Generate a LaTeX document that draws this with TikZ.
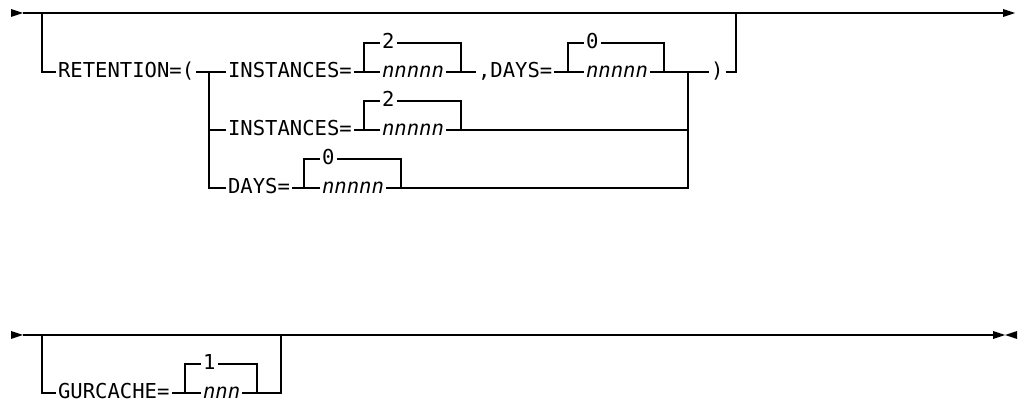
\documentclass[tikz,border=0pt]{standalone}
\usepackage{fontspec}
\setmonofont{DejaVu Sans Mono}
\usetikzlibrary{positioning,calc}

\tikzset{
  rail/.style={line width=0.6pt},
  kw/.style={font=\ttfamily\fontsize{11.7}{13}\selectfont, inner xsep=1pt, inner ysep=0pt,
    text height=8.4pt, text depth=1.6pt, anchor=west},
  var/.style={kw, font=\ttfamily\itshape\fontsize{11.7}{13}\selectfont},
}

\begin{document}
\begin{tikzpicture}[x=0.02cm,y=-0.02cm]
  \useasboundingbox (0,0) rectangle (1018,405);
  % top rail
  \fill (11,9) -- (23,13) -- (11,17) -- cycle;
  \fill (1003,9) -- (1015,13) -- (1003,17) -- cycle;
  \coordinate (t0) at (23,13);
  \coordinate (t1) at (1003,13);
  \draw[rail] (t0) -- (t1);

  % RETENTION group
  \node[kw] (ret) at (56,72) {RETENTION=(};
  \coordinate (retL) at (42,13);
  \coordinate (retR) at (736,13);
  \coordinate (jL) at (209,72);
  \coordinate (jR) at (688,72);
  \node[kw] (ins1) at (226,72) {INSTANCES=};
  \node[kw] (days1) at (476,72) {,DAYS=};
  \node[kw] (close) at (709,72) {)};
  \node[kw] (ins2) at (226,130) {INSTANCES=};
  \node[kw] (days3) at (226,188) {DAYS=};

  % GURCACHE group
  \node[kw] (gur) at (56,393) {GURCACHE=};
  \coordinate (gurL) at (42,335);
  \coordinate (gurR) at (281,335);

  % default / variable boxes
  \foreach \nm/\bx/\by/\bw/\dv/\vv in {b1/364/72/97/2/nnnnn, b2/568/72/96/0/nnnnn,
      b3/364/130/97/2/nnnnn, b4/304/188/97/0/nnnnn, b5/185/393/72/1/nnn}{
    \coordinate (\nm-in) at (\bx,\by);
    \coordinate (\nm-out) at (\bx+\bw,\by);
    \node[kw] (\nm-d) at (\bx+16,\by-29) {\dv};
    \node[var] (\nm-v) at (\bx+16,\by) {\vv};
    \draw[rail] (\nm-in) |- (\nm-d.west);
    \draw[rail] (\nm-d.east) -| (\nm-out);
    \draw[rail] (\nm-in) -- (\nm-v.west);
    \draw[rail] (\nm-v.east) -- (\nm-out);
  }

  \draw[rail] (retL) |- (ret.west);
  \draw[rail] (ret.east) -- (jL) -- (ins1.west);
  \draw[rail] (jL) |- (days3.west);
  \draw[rail] (jL |- ins2.west) -- (ins2.west);
  \draw[rail] (ins1.east) -- (b1-in);
  \draw[rail] (b1-out) -- (days1.west);
  \draw[rail] (days1.east) -- (b2-in);
  \draw[rail] (b2-out) -- (jR) -- (close.west);
  \draw[rail] (ins2.east) -- (b3-in);
  \draw[rail] (b3-out) -| (jR);
  \draw[rail] (days3.east) -- (b4-in);
  \draw[rail] (b4-out) -| (jR);
  \draw[rail] (close.east) -| (retR);

  % bottom rail
  \fill (11,331) -- (23,335) -- (11,339) -- cycle;
  \coordinate (u0) at (23,335);
  \coordinate (u1) at (993,335);
  \draw[rail] (u0) -- (u1);
  \fill (993,331) -- (1005,335) -- (993,339) -- cycle;
  \fill (1017,331) -- (1005,335) -- (1017,339) -- cycle;
  \draw[rail] (gurL) |- (gur.west);
  \draw[rail] (gur.east) -- (b5-in);
  \draw[rail] (b5-out) -| (gurR);
\end{tikzpicture}
\end{document}
